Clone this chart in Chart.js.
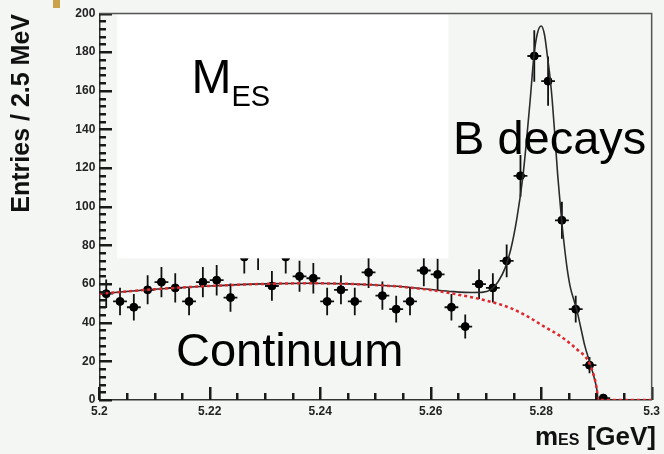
<!DOCTYPE html>
<html>
<head>
<meta charset="utf-8">
<title>mES fit</title>
<script src="https://cdn.jsdelivr.net/npm/chart.js@4.4.1/dist/chart.umd.min.js"></script>
<style>
    html, body { margin: 0; padding: 0; background: #f3f6f3; }
    #wrap { position: relative; width: 664px; height: 454px; }
    #corner { position: absolute; left: 53px; top: 0; width: 7px; height: 8px; background: #c9a24a; }
</style>
</head>
<body>
<div id="wrap">
    <canvas id="mesChart"></canvas>
    <div id="corner"></div>
</div>
<script>
// Histogram: bin centres (GeV), entries per 2.5 MeV bin, errors
const binCenters = [
    5.20125, 5.20375, 5.20625, 5.20875, 5.21125, 5.21375, 5.21625, 5.21875,
    5.22125, 5.22375, 5.22625, 5.22875, 5.23125, 5.23375, 5.23625, 5.23875,
    5.24125, 5.24375, 5.24625, 5.24875, 5.25125, 5.25375, 5.25625, 5.25875,
    5.26125, 5.26375, 5.26625, 5.26875, 5.27125, 5.27375, 5.27625, 5.27875,
    5.28125, 5.28375, 5.28625, 5.28875, 5.29125
];
const entries = [
    55, 51, 48, 57, 61, 58, 51, 61,
    62, 53, 74, 76, 59, 74, 64, 63,
    51, 57, 51, 66, 54, 47, 51, 67,
    65, 48, 38, 60, 58, 72, 116, 178,
    165, 93, 47, 18, 1
];
const errors = [
    7.4, 7.1, 6.9, 7.5, 7.8, 7.6, 7.1, 7.8,
    7.9, 7.3, 8.6, 8.7, 7.7, 8.6, 8.0, 7.9,
    7.1, 7.5, 7.1, 8.1, 7.3, 6.9, 7.1, 8.2,
    8.1, 6.9, 6.2, 7.7, 7.6, 8.5, 10.8, 13.3,
    12.8, 9.6, 6.9, 4.2, 1.0
];
const halfBin = 0.00125;

// Total fit (black)
const fitX = [
    5.200, 5.210, 5.220, 5.230, 5.238, 5.245, 5.250, 5.255, 5.260, 5.264,
    5.2675, 5.2695, 5.2710, 5.2722, 5.2735, 5.2745, 5.2756, 5.2767, 5.2774, 5.2780,
    5.2787, 5.2793, 5.2800, 5.2806, 5.2811, 5.2816, 5.2820, 5.2825, 5.2830, 5.2837,
    5.2841, 5.2847, 5.2853, 5.2860, 5.2865, 5.2872, 5.2879, 5.2888, 5.2896, 5.2901,
    5.2903, 5.300
];
const fitTotal = [
    55.0, 57.3, 59.0, 60.1, 60.4, 60.1, 59.5, 58.6, 57.2, 56.1,
    55.6, 55.8, 57.4, 61.2, 68.5, 78.0, 94.0, 116.0, 136.0, 155.0,
    178.5, 189.5, 193.5, 189.0, 178.5, 167.0, 155.0, 136.0, 116.0, 93.0,
    82.0, 68.0, 58.0, 51.0, 46.0, 37.0, 28.0, 19.5, 11.5, 5.0,
    0.0, 0.0
];

// Continuum component (red dashed)
const bkgX = [
    5.200, 5.210, 5.220, 5.230, 5.238, 5.245, 5.250, 5.255, 5.260, 5.265,
    5.270, 5.2746, 5.2776, 5.2806, 5.2836, 5.2866, 5.2884, 5.2896, 5.2901, 5.2903,
    5.300
];
const bkgContinuum = [
    55.0, 57.3, 59.0, 60.1, 60.4, 60.1, 59.5, 58.5, 56.9, 54.5,
    51.5, 47.4, 43.1, 37.9, 32.8, 25.9, 20.7, 12.0, 5.0, 0.0,
    0.0
];

// Axis setup
const xMin = 5.2, xMax = 5.3, xStep = 0.02, xMinorStep = 0.005;
const yMin = 0, yMax = 200, yStep = 20, yMinorStep = 4;

// White patch covering the upper-left part of the plot (data coords)
const maskBox = { x0: 5.2032, x1: 5.2632, y0: 73.3, y1: 199.4 };

const FONT = '"Liberation Sans", Arial, Helvetica, sans-serif';

const hepDecor = {
    id: 'hepDecor',
    beforeDatasetsDraw(chart) {
        // error bars
        const { ctx, scales: { x, y } } = chart;
        ctx.save();
        ctx.strokeStyle = '#111';
        ctx.lineWidth = 1.8;
        ctx.beginPath();
        binCenters.forEach((c, i) => {
            const px = x.getPixelForValue(c);
            const py = y.getPixelForValue(entries[i]);
            ctx.moveTo(px, y.getPixelForValue(entries[i] - errors[i]));
            ctx.lineTo(px, y.getPixelForValue(entries[i] + errors[i]));
            ctx.moveTo(x.getPixelForValue(c - halfBin), py);
            ctx.lineTo(x.getPixelForValue(c + halfBin), py);
        });
        ctx.stroke();
        ctx.restore();
    },
    afterDatasetsDraw(chart) {
        const { ctx, chartArea: a, scales: { x, y } } = chart;
        const l = x.getPixelForValue(maskBox.x0), r = x.getPixelForValue(maskBox.x1);
        const t = y.getPixelForValue(maskBox.y1), b = y.getPixelForValue(maskBox.y0);
        ctx.save();
        ctx.fillStyle = '#ffffff';
        ctx.fillRect(l, t, r - l, b - t);

        // inside ticks (major every stepSize, minor in between)
        ctx.fillStyle = '#1a1a1a';
        const ny = Math.round((yMax - yMin) / yMinorStep);
        for (let k = 0; k <= ny; k++) {
            const py = Math.round(y.getPixelForValue(yMin + k * yMinorStep));
            const len = (k % (yStep / yMinorStep) === 0) ? 13 : 7;
            ctx.fillRect(Math.round(a.left), py - 1, len, 2.5);
        }
        const nx = Math.round((xMax - xMin) / xMinorStep);
        for (let k = 0; k <= nx; k++) {
            const px = Math.round(x.getPixelForValue(xMin + k * xMinorStep));
            const len = (k % 4 === 0) ? 13 : 7;
            ctx.fillRect(px - 1, Math.round(a.bottom) - len, 2.5, len);
        }
        ctx.restore();
    },
    afterDraw(chart) {
        const { ctx, chartArea: a } = chart;
        ctx.save();
        // frame top / right
        ctx.strokeStyle = '#555';
        ctx.lineWidth = 1.5;
        ctx.beginPath();
        ctx.moveTo(a.left, a.top);
        ctx.lineTo(a.right, a.top);
        ctx.lineTo(a.right, a.bottom);
        ctx.stroke();

        // axis titles
        ctx.fillStyle = '#111';
        ctx.save();
        ctx.translate(22, 14);
        ctx.rotate(-Math.PI / 2);
        ctx.textAlign = 'right';
        ctx.textBaseline = 'middle';
        ctx.font = 'bold 25px ' + FONT;
        ctx.fillText('Entries / 2.5 MeV', 0, 0);
        ctx.restore();

        ctx.textBaseline = 'alphabetic';
        ctx.textAlign = 'left';
        const big = 'bold 26px ' + FONT, small = 'bold 16px ' + FONT;
        ctx.font = big;
        const wM = ctx.measureText('m').width;
        const wRest = ctx.measureText(' [GeV]').width;
        ctx.font = small;
        const wES = ctx.measureText('ES').width;
        const tx = 656 - (wM + wES + wRest);
        const ty = 445;
        ctx.font = big;
        ctx.fillText('m', tx, ty);
        ctx.font = small;
        ctx.fillText('ES', tx + wM, ty);
        ctx.font = big;
        ctx.fillText(' [GeV]', tx + wM + wES, ty);

        // annotations
        ctx.fillStyle = '#000';
        ctx.font = '48px ' + FONT;
        ctx.fillText('M', 191.5, 93);
        const mw = ctx.measureText('M').width;
        ctx.font = '29px ' + FONT;
        ctx.fillText('ES', 191.5 + mw, 106);
        ctx.font = '47px ' + FONT;
        ctx.fillText('B decays', 453, 154);
        ctx.fillText('Continuum', 176, 366);
        ctx.restore();
    }
};

const histPoints = binCenters.map((c, i) => ({ x: c, y: entries[i] }));
const totalCurve = fitX.map((v, i) => ({ x: v, y: fitTotal[i] }));
const bkgCurve = bkgX.map((v, i) => ({ x: v, y: bkgContinuum[i] }));

const tickFont = { family: FONT, size: 12, weight: 'bold' };

new Chart(document.getElementById('mesChart'), {
    type: 'scatter',
    data: {
        datasets: [
            {
                label: 'Continuum',
                data: bkgCurve,
                showLine: true,
                borderColor: '#e3262b',
                borderWidth: 2.5,
                borderDash: [3, 3],
                pointRadius: 0,
                cubicInterpolationMode: 'monotone',
                order: 0
            },
            {
                label: 'Fit',
                data: totalCurve,
                showLine: true,
                borderColor: '#2b2b2b',
                borderWidth: 1.6,
                pointRadius: 0,
                cubicInterpolationMode: 'monotone',
                order: 1
            },
            {
                label: 'Data',
                data: histPoints,
                showLine: false,
                pointRadius: 4,
                pointBackgroundColor: '#000',
                pointBorderColor: '#000',
                pointBorderWidth: 1,
                order: 2
            }
        ]
    },
    options: {
        responsive: true,
        maintainAspectRatio: false,
        animation: false,
        layout: { padding: { top: 13.5, right: 9.7, left: 0, bottom: 0 } },
        plugins: {
            legend: { display: false },
            tooltip: { enabled: false }
        },
        scales: {
            x: {
                type: 'linear',
                min: xMin,
                max: xMax,
                grid: { display: false, drawTicks: false },
                border: { display: true, color: '#333', width: 1.5 },
                ticks: {
                    stepSize: xStep,
                    autoSkip: false,
                    maxRotation: 0,
                    padding: 4,
                    color: '#222',
                    font: tickFont,
                    callback: (v) => String(+Number(v).toFixed(2))
                },
                afterFit: (s) => { s.height = 54; }
            },
            y: {
                min: yMin,
                max: yMax,
                grid: { display: false, drawTicks: false },
                border: { display: true, color: '#333', width: 1.5 },
                ticks: {
                    stepSize: yStep,
                    padding: 4,
                    color: '#222',
                    font: tickFont
                },
                afterFit: (s) => { s.width = 99.3; }
            }
        }
    },
    plugins: [hepDecor]
});
</script>
</body>
</html>
